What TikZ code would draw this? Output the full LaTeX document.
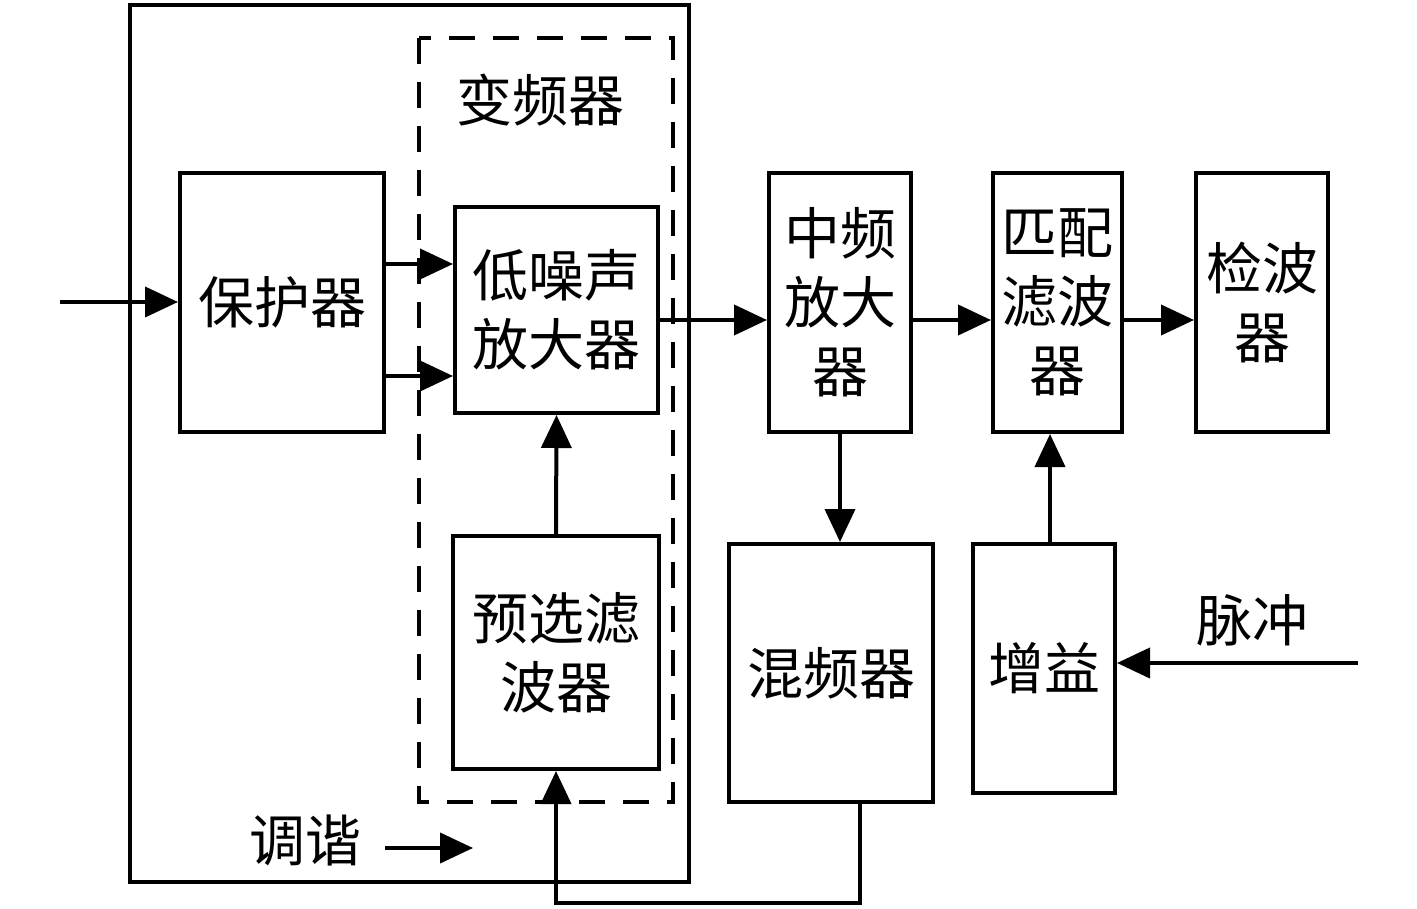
\documentclass[tikz,border=0pt]{standalone}
\usepackage{fontspec}
\newfontfamily\cjk{Noto Sans CJK SC}
\usetikzlibrary{arrows.meta}
\begin{document}
\begin{tikzpicture}[x=1pt,y=-1pt,
  every node/.style={font=\cjk\fontsize{56}{69}\selectfont},
  blk/.style={draw,line width=4pt,rectangle,align=center,inner sep=0pt},
  arr/.style={line width=4pt,-{Triangle[length=33pt,width=30pt]}},
  ln/.style={line width=4pt},
  lbl/.style={inner sep=0pt,align=center}]
\useasboundingbox (0,0) rectangle (1417,909);
% outer and dashed frames
\draw[ln] (130,5) rectangle (689,882);
\draw[line width=4pt,dash pattern=on 26pt off 18pt] (419,38) rectangle (673,802);
% blocks
\node[blk,minimum width=204pt,minimum height=259pt] (prot) at (282,302.5) {保护器};
\node[blk,minimum width=203pt,minimum height=206pt] (lna) at (556.5,310) {低噪声\\放大器};
\node[blk,minimum width=206pt,minimum height=233pt] (pre) at (556,652.5) {预选滤\\波器};
\node[blk,minimum width=204pt,minimum height=258pt] (mix) at (831,673) {混频器};
\node[blk,minimum width=142pt,minimum height=259pt] (ifa) at (840,302.5) {中频\\放大\\器};
\node[blk,minimum width=129pt,minimum height=259pt] (mf) at (1057.5,302.5) {匹配\\滤波\\器};
\node[blk,minimum width=132pt,minimum height=259pt] (det) at (1262,302.5) {检波\\器};
\node[blk,minimum width=142pt,minimum height=249pt] (gain) at (1044,668.5) {增益};
% labels
\node[lbl] (bpq) at (540,100) {变频器};
\node[lbl] (tune) at (305,840) {调谐};
\node[lbl] (pulse) at (1252,620) {脉冲};
% free end points
\coordinate (inA) at (60,302);
\coordinate (tuneA) at (385,848);
\coordinate (tuneB) at (473,848);
\coordinate (pulseA) at (1358,663);
\coordinate (fbA) at (860,903);
\coordinate (fbB) at (556,903);
% connectors
\draw[arr] (inA) -- (prot.west |- inA);
\draw[arr] (prot.east |- 0,264) -- (lna.west |- 0,264);
\draw[arr] (prot.east |- 0,376) -- (lna.west |- 0,376);
\draw[arr] (pre.north) -- (lna.south);
\draw[arr] (lna.east |- 0,320) -- (ifa.west |- 0,320);
\draw[arr] (ifa.east |- 0,320) -- (mf.west |- 0,320);
\draw[arr] (mf.east |- 0,320) -- (det.west |- 0,320);
\draw[arr] (ifa.south) -- (ifa.south |- mix.north);
\draw[arr] (gain.north -| 1050,0) -- (mf.south -| 1050,0);
\draw[arr] (pulseA) -- (gain.east |- pulseA);
\draw[arr] (tuneA) -- (tuneB);
\draw[arr,line join=miter] (mix.south -| fbA) -- (fbA) -- (fbB) -- (pre.south);
\end{tikzpicture}
\end{document}
